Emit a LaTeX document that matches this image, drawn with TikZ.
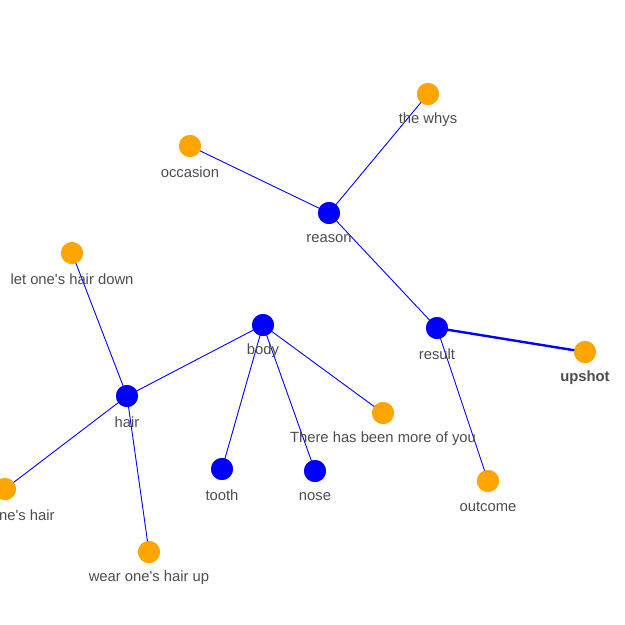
\documentclass[tikz,border=0pt]{standalone}
\usepackage{fontspec}
\setmainfont{Liberation Sans}
\begin{document}
\begin{tikzpicture}[x=1pt,y=-1pt,
  hub/.style={circle,fill=blue,minimum size=22pt,inner sep=0pt},
  leaf/.style={circle,fill=orange,minimum size=22pt,inner sep=0pt},
  lbl/.style={text=black!70,font=\fontsize{14.8}{16}\selectfont,inner sep=0pt},
  edge/.style={draw=blue,line width=0.9pt},
  thick edge/.style={draw=blue,line width=2.4pt}]
\definecolor{orange}{RGB}{255,165,0}
\useasboundingbox (0,0) rectangle (625,625);
\clip (0,0) rectangle (625,625);
% nodes
\node[leaf] (whys) at (428,94) {};
\node[leaf] (occasion) at (190,146) {};
\node[hub] (reason) at (329,213) {};
\node[leaf] (letdown) at (72,253) {};
\node[hub] (body) at (263,325) {};
\node[hub] (result) at (437,328) {};
\node[leaf] (upshot) at (585,352) {};
\node[hub] (hair) at (127,396) {};
\node[leaf] (more) at (383,413) {};
\node[hub] (tooth) at (222,469) {};
\node[hub] (nose) at (315,471) {};
\node[leaf] (outcome) at (488,481) {};
\node[leaf] (nehair) at (5,489) {};
\node[leaf] (wearup) at (149,552) {};
% edges
\path[edge] (whys.center) -- (reason.center);
\path[edge] (occasion.center) -- (reason.center);
\path[edge] (reason.center) -- (result.center);
\path[thick edge] (result.center) -- (upshot.center);
\path[edge] (result.center) -- (outcome.center);
\path[edge] (hair.center) -- (letdown.center);
\path[edge] (hair.center) -- (body.center);
\path[edge] (hair.center) -- (nehair.center);
\path[edge] (hair.center) -- (wearup.center);
\path[edge] (body.center) -- (tooth.center);
\path[edge] (body.center) -- (nose.center);
\path[edge] (body.center) -- (more.center);
% redraw circles on top
\foreach \n/\c in {whys/orange,occasion/orange,reason/blue,letdown/orange,body/blue,result/blue,upshot/orange,hair/blue,more/orange,tooth/blue,nose/blue,outcome/orange,nehair/orange,wearup/orange}
  \fill[\c] (\n) circle (11pt);
% labels
\node[lbl] (l1) at (428,120) {the whys};
\node[lbl] (l2) at (190,172) {occasion};
\node[lbl] (l3) at (329,239) {reason};
\node[lbl] (l4) at (72,279) {let one\textquotesingle s hair down};
\node[lbl] (l5) at (263,351) {body};
\node[lbl] (l6) at (437,354) {result};
\node[lbl,font=\fontsize{14.8}{16}\selectfont\bfseries] (l7) at (585,378) {upshot};
\node[lbl] (l8) at (127,422) {hair};
\node[lbl] (l9) at (383,439) {There has been more of you};
\node[lbl] (l10) at (222,495) {tooth};
\node[lbl] (l11) at (315,497) {nose};
\node[lbl] (l12) at (488,507) {outcome};
\node[lbl,anchor=west] (l13) at (-1,515) {ne\textquotesingle s hair};
\node[lbl] (l14) at (149,578) {wear one\textquotesingle s hair up};
\end{tikzpicture}
\end{document}
